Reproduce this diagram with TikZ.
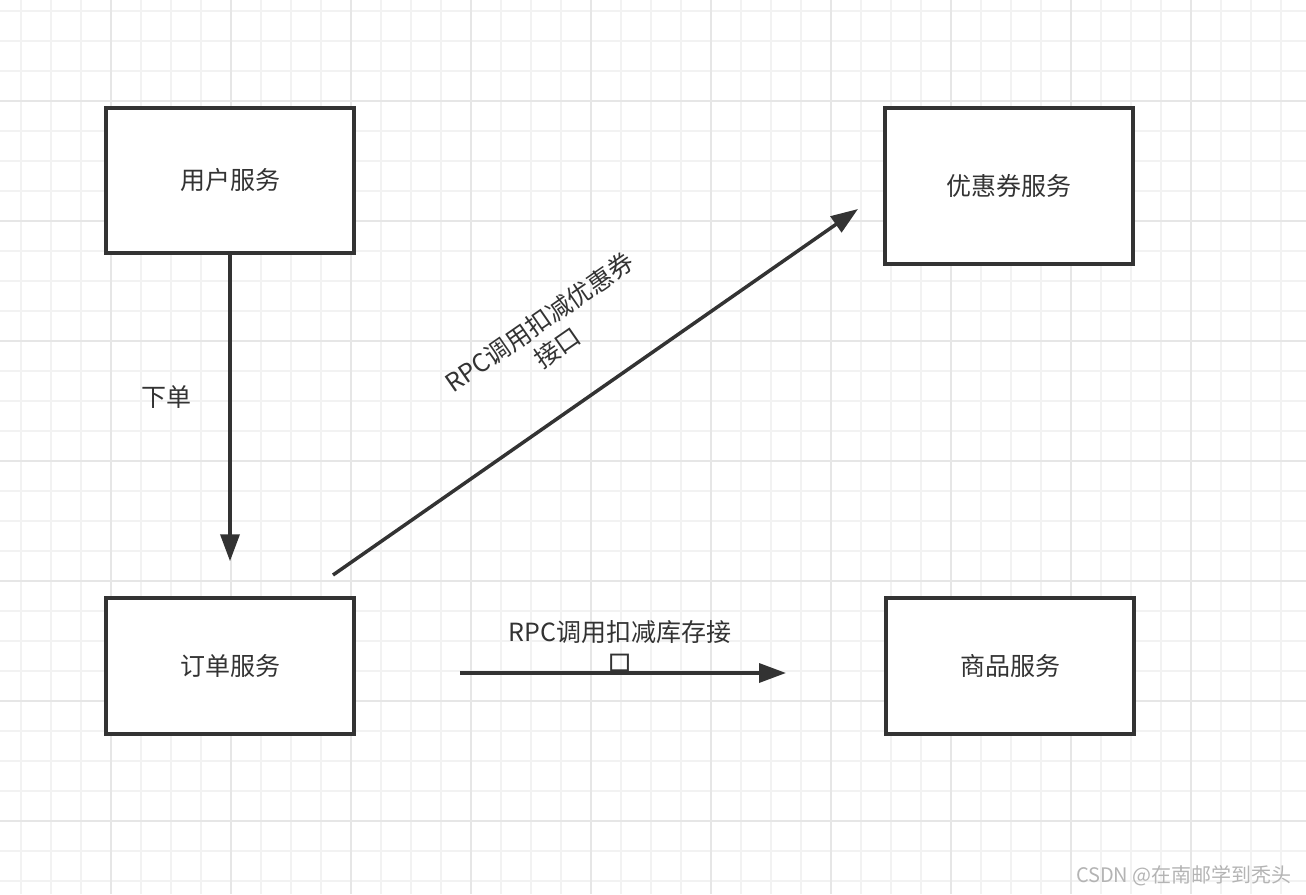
\documentclass[tikz,border=0pt]{standalone}
\usepackage{fontspec}
\newfontfamily\cjk{Noto Sans CJK SC}
\usetikzlibrary{arrows.meta}
\definecolor{ink}{HTML}{333333}
\definecolor{gridlo}{HTML}{F2F2F2}
\definecolor{gridhi}{HTML}{E6E6E6}
\definecolor{mark}{HTML}{B4B4B4}

\begin{document}
\begin{tikzpicture}[x=1pt,y=-1pt,
  svcbox/.style={draw=ink,line width=3.5pt,fill=white,minimum width=248pt,
    text=ink,font=\cjk\fontsize{25}{31}\selectfont},
  conn/.style={draw=ink,line width=3.5pt,-{Triangle[length=27pt,width=19pt]}},
  lbl/.style={text=ink,align=center,inner sep=0pt,font=\cjk\fontsize{25}{31}\selectfont}]
% Canvas
\useasboundingbox (0,0) rectangle (1306,894);
\fill[white] (0,0) rectangle (1306,894);
\foreach \gx in {21,51,...,1301} \draw[gridlo,line width=2pt] (\gx,0) -- (\gx,894);
\foreach \gy in {11,41,...,881} \draw[gridlo,line width=2pt] (0,\gy) -- (1306,\gy);
\foreach \gx in {111,231,...,1191} \draw[gridhi,line width=2pt] (\gx,0) -- (\gx,894);
\foreach \gy in {101,221,...,821} \draw[gridhi,line width=2pt] (0,\gy) -- (1306,\gy);

% Services
\node[svcbox,minimum height=145pt] (user) at (230,180.5) {用户服务};
\node[svcbox,minimum height=156pt] (coupon) at (1009,186) {优惠券服务};
\node[svcbox,minimum height=136pt] (order) at (230,666) {订单服务};
\node[svcbox,minimum height=136pt] (goods) at (1010,666) {商品服务};

% Place order
\draw[conn,shorten >=35pt] (user.south) -- (order.north);
\node[lbl] (placeLbl) at (166,397) {下单};

% Coupon call
\coordinate (cpnFrom) at (333,575);
\coordinate (cpnTo) at (858,209);
\draw[conn] (cpnFrom) -- (cpnTo);
\node[lbl,rotate=34.8] (cpnLbl) at (548.5,335) {RPC调用扣减优惠券\\接口};

% Stock call
\coordinate (stkFrom) at (460,673);
\coordinate (stkTo) at (786,673);
\draw[conn] (stkFrom) -- (stkTo);
\node[lbl] (stkLbl) at (620,647) {RPC调用扣减库存接\\口};

% Watermark
\node[text=mark,anchor=east,inner sep=0pt,font=\cjk\fontsize{20}{24}\selectfont] (wm) at (1292,876) {CSDN @在南邮学到秃头};
\end{tikzpicture}
\end{document}
